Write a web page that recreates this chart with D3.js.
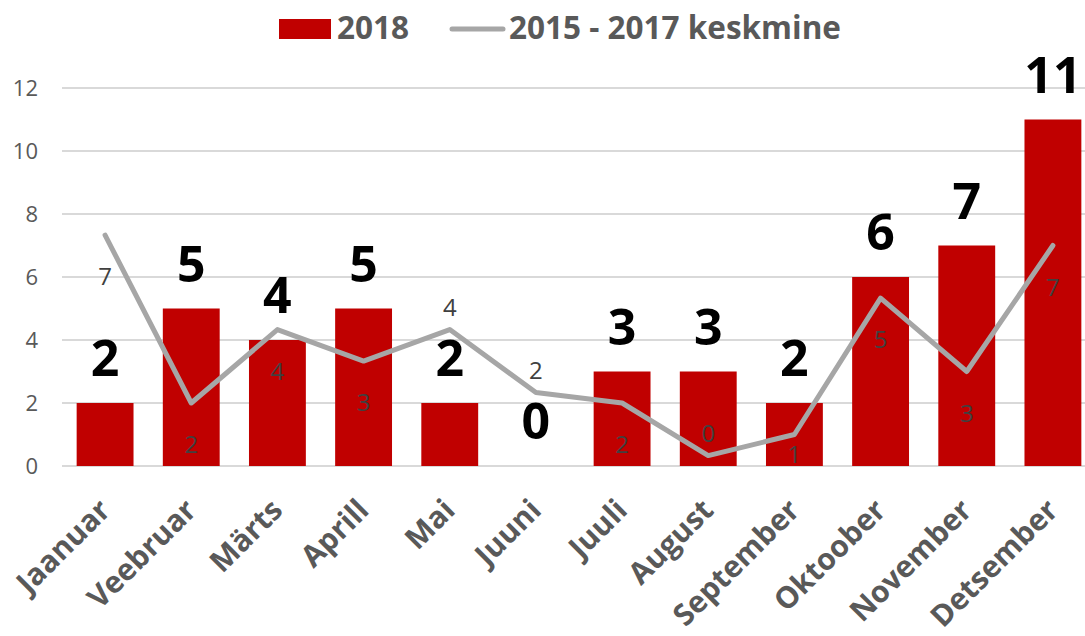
<!DOCTYPE html>
<html>
<head>
<meta charset="utf-8">
<script src="https://cdn.jsdelivr.net/npm/d3@7"></script>
<style>
  html, body { margin: 0; padding: 0; background: #fff; }
  svg { display: block; font-family: "Open Sans", sans-serif; }
</style>
</head>
<body>
<svg id="chart" width="1085" height="636"></svg>
<script>
const months = ["Jaanuar","Veebruar","Märts","Aprill","Mai","Juuni","Juuli","August","September","Oktoober","November","Detsember"];
const values2018 = [2,5,4,5,2,0,3,3,2,6,7,11];
const avg2015_2017 = [7.33,2,4.33,3.33,4.33,2.33,2,0.33,1,5.33,3,7];
const avgLabelPlacement = ["below","below","below","below","above","above","below","above","below","below","below","below"];
const yTicks = [0,2,4,6,8,10,12];
const seriesNames = ["2018","2015 - 2017 keskmine"];

const svg = d3.select("#chart");
const W = 1085, H = 636;
const margin = {left: 62, right: -11, top: 88, bottom: 170};

const x = d3.scaleBand().domain(months).range([margin.left, W - margin.right]).paddingInner(0.34).paddingOuter(0.17);
const y = d3.scaleLinear().domain([0,12]).range([H - margin.bottom, margin.top]);

// gridlines
svg.append("g").selectAll("line").data(yTicks).join("line")
  .attr("x1", margin.left).attr("x2", W)
  .attr("y1", d => y(d)).attr("y2", d => y(d))
  .attr("stroke", "#d9d9d9").attr("stroke-width", 2);

// y axis labels
const yAxis = d3.axisLeft(y).tickValues(yTicks).tickSize(0).tickPadding(0);
const yg = svg.append("g").attr("transform", `translate(38,0)`).call(yAxis);
yg.select(".domain").remove();
yg.selectAll("text").attr("font-size", 22).attr("fill", "#595959").attr("font-family", "'Open Sans', sans-serif");

// bars
svg.append("g").selectAll("rect").data(months).join("rect")
  .attr("x", d => x(d)).attr("width", x.bandwidth())
  .attr("y", (d,i) => y(values2018[i])).attr("height", (d,i) => y(0) - y(values2018[i]))
  .attr("fill", "#c00000");

// line
const line = d3.line().x((d,i) => x(months[i]) + x.bandwidth()/2).y(d => y(d));
svg.append("path").datum(avg2015_2017)
  .attr("d", line).attr("fill", "none").attr("stroke", "#a6a6a6")
  .attr("stroke-width", 5).attr("stroke-linejoin", "round").attr("stroke-linecap", "round");

// bar labels
svg.append("g").selectAll("text").data(months).join("text")
  .attr("x", d => x(d) + x.bandwidth()/2)
  .attr("y", (d,i) => y(values2018[i]) - 27)
  .attr("text-anchor", "middle")
  .attr("font-size", 50).attr("font-weight", "bold").attr("fill", "#000")
  .text((d,i) => values2018[i]);

// line labels
svg.append("g").selectAll("text").data(months).join("text")
  .attr("x", d => x(d) + x.bandwidth()/2)
  .attr("y", (d,i) => {
    const py = y(avg2015_2017[i]);
    if (avgLabelPlacement[i] === "above") return py - 14;
    return Math.min(py + 50, y(0) - 3);
  })
  .attr("text-anchor", "middle")
  .attr("font-size", 24).attr("fill", "#404040")
  .text((d,i) => Math.round(avg2015_2017[i]));

// x axis labels
svg.append("g").selectAll("text").data(months).join("text")
  .attr("transform", d => `translate(${x(d) + x.bandwidth()/2 + 7},${y(0) + 46}) rotate(-45)`)
  .attr("text-anchor", "end")
  .attr("font-size", 30).attr("font-weight", "bold").attr("fill", "#595959")
  .text(d => d);

// legend
const lg = svg.append("g");
lg.append("rect").attr("x", 279).attr("y", 19).attr("width", 52).attr("height", 20).attr("fill", "#c00000");
lg.append("text").attr("x", 337).attr("y", 39).attr("font-size", 31.5).attr("font-weight", "bold").attr("fill", "#595959").text(seriesNames[0]);
lg.append("line").attr("x1", 452).attr("x2", 503).attr("y1", 29).attr("y2", 29)
  .attr("stroke", "#a6a6a6").attr("stroke-width", 5).attr("stroke-linecap", "round");
lg.append("text").attr("x", 509).attr("y", 39).attr("font-size", 31.5).attr("font-weight", "bold").attr("fill", "#595959").text(seriesNames[1]);
</script>
</body>
</html>
